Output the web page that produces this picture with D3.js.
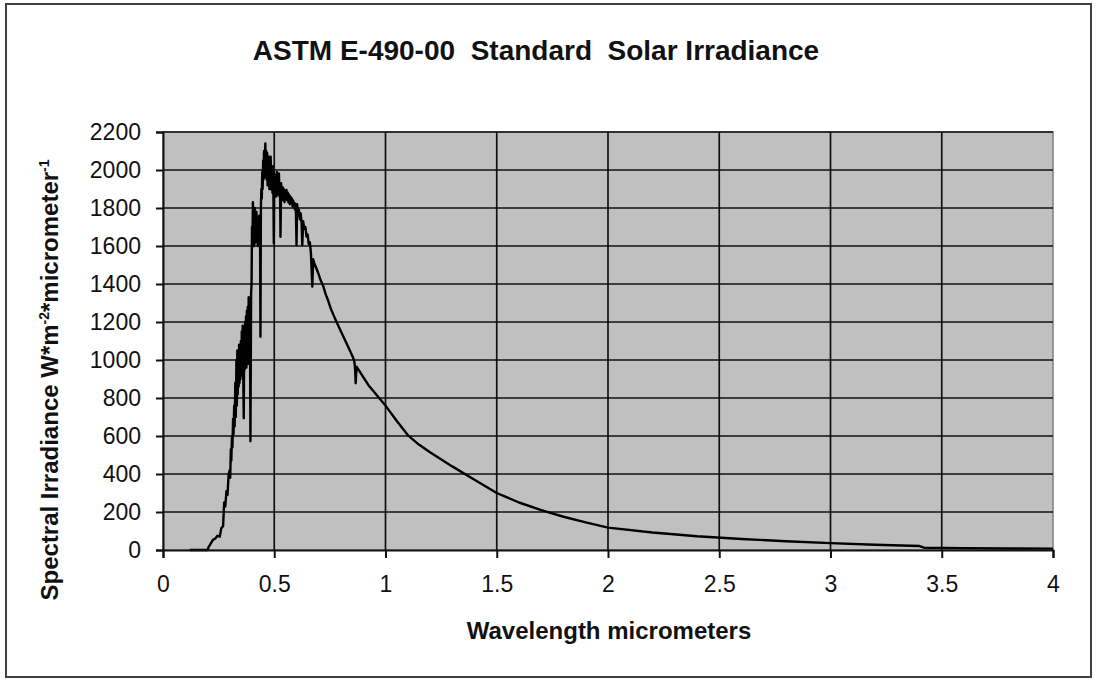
<!DOCTYPE html>
<html>
<head>
<meta charset="utf-8">
<script src="https://cdn.jsdelivr.net/npm/d3@7"></script>
<style>
  body { margin: 0; background: #fff; }
  svg { display: block; font-family: "Liberation Sans", Arial, sans-serif; }
</style>
</head>
<body>
<svg id="chart" width="1097" height="682"></svg>
<script>
// wavelength (micrometers) and spectral irradiance
const wavelength = [
  0.12, 0.20, 0.205, 0.215, 0.225, 0.235, 0.245, 0.255, 0.262, 0.27,
  0.275, 0.28, 0.285, 0.29, 0.295, 0.30, 0.302, 0.305, 0.307, 0.31,
  0.312, 0.315, 0.317, 0.32, 0.322, 0.325, 0.327, 0.33, 0.332, 0.334,
  0.336, 0.338, 0.34, 0.342, 0.344, 0.346, 0.348, 0.35, 0.352, 0.354,
  0.356, 0.358, 0.36, 0.363, 0.365, 0.367, 0.369, 0.371, 0.373, 0.375,
  0.377, 0.379, 0.381, 0.383, 0.385, 0.387, 0.389, 0.391, 0.393, 0.396,
  0.398, 0.400, 0.402, 0.404, 0.406, 0.408, 0.410, 0.412, 0.414, 0.416,
  0.418, 0.420, 0.422, 0.424, 0.426, 0.428, 0.430, 0.432, 0.434, 0.436,
  0.438, 0.440, 0.442, 0.444, 0.446, 0.448, 0.450, 0.452, 0.454, 0.456,
  0.458, 0.460, 0.462, 0.464, 0.466, 0.468, 0.470, 0.472, 0.474, 0.476,
  0.478, 0.480, 0.482, 0.484, 0.486, 0.488, 0.490, 0.492, 0.494, 0.496,
  0.498, 0.500, 0.503, 0.506, 0.509, 0.512, 0.515, 0.518, 0.521, 0.524,
  0.526, 0.528, 0.531, 0.534, 0.537, 0.540, 0.543, 0.546, 0.549, 0.552,
  0.555, 0.558, 0.561, 0.564, 0.567, 0.570, 0.573, 0.576, 0.579, 0.582,
  0.585, 0.588, 0.591, 0.594, 0.597, 0.600, 0.603, 0.607, 0.611, 0.615,
  0.619, 0.623, 0.626, 0.630, 0.635, 0.640, 0.645, 0.650, 0.655, 0.660,
  0.665, 0.671, 0.675, 0.680, 0.690, 0.700, 0.708, 0.720, 0.730, 0.740,
  0.753, 0.765, 0.78, 0.80, 0.82, 0.84, 0.855, 0.86, 0.863, 0.866,
  0.87, 0.90, 0.925, 0.95, 0.975, 1.0, 1.05,
  1.1, 1.15, 1.2, 1.3, 1.4, 1.5, 1.6, 1.7, 1.8, 1.9, 2.0,
  2.2, 2.4, 2.6, 2.8, 3.0, 3.2, 3.4, 3.42, 3.6, 3.8, 4.0
];
const irradiance = [
  0, 0, 15, 35, 55, 60, 75, 70, 115, 125,
  250, 230, 310, 290, 400, 420, 380, 530, 470, 600,
  540, 690, 610, 760, 650, 880, 700, 1000, 760, 1050,
  820, 1000, 860, 1080, 880, 1040, 900, 1100, 920, 1150,
  950, 1180, 980, 694, 1120, 950, 1200, 1000, 1230, 960,
  1260, 1000, 1280, 980, 1330, 1020, 1300, 1100, 573, 1350,
  1400, 1700, 1600, 1830, 1640, 1780, 1600, 1800, 1650, 1760,
  1620, 1780, 1640, 1750, 1600, 1720, 1640, 1760, 1620, 1700,
  1123, 1800, 1900, 1850, 1990, 1900, 2050, 1950, 2100, 1960,
  2080, 2140, 1980, 2100, 1950, 2090, 1920, 2060, 1950, 2070,
  1900, 2040, 1950, 2070, 1900, 2000, 1960, 1880, 2020, 1900,
  1614, 1980, 1880, 1960, 1860, 1990, 1870, 1950, 1982, 1860,
  1900, 1649, 1930, 1850, 1910, 1840, 1900, 1830, 1890, 1850,
  1895, 1840, 1880, 1830, 1870, 1820, 1860, 1830, 1850, 1810,
  1840, 1800, 1826, 1790, 1820, 1605, 1820, 1760, 1790, 1740,
  1772, 1720, 1605, 1730, 1690, 1700, 1650, 1660, 1610, 1620,
  1560, 1386, 1530, 1510, 1480, 1450, 1421, 1390, 1350, 1320,
  1274, 1240, 1200, 1150, 1100, 1050, 1010, 990, 960, 878,
  965, 910, 865, 830, 795, 760, 680,
  605, 555, 515, 440, 370, 300, 250, 210, 175, 145, 118,
  92, 72, 58, 46, 36, 28, 21, 12, 10, 8, 7
];
const xTicks = [0, 0.5, 1, 1.5, 2, 2.5, 3, 3.5, 4];
const yTicks = [0, 200, 400, 600, 800, 1000, 1200, 1400, 1600, 1800, 2000, 2200];

const title = "ASTM E-490-00  Standard  Solar Irradiance";
const xTitle = "Wavelength micrometers";

const svg = d3.select("#chart");
const plotLeft = 163, plotRight = 1053, plotTop = 132, plotBottom = 550;

const x = d3.scaleLinear().domain([0, 4]).range([plotLeft, plotRight]);
const y = d3.scaleLinear().domain([0, 2200]).range([plotBottom, plotTop]);

// outer frame
svg.append("rect")
    .attr("x", 6).attr("y", 4)
    .attr("width", 1085).attr("height", 673)
    .attr("fill", "#fff")
    .attr("stroke", "#404040")
    .attr("stroke-width", 2);

// plot area
svg.append("rect")
    .attr("x", plotLeft).attr("y", plotTop)
    .attr("width", plotRight - plotLeft).attr("height", plotBottom - plotTop)
    .attr("fill", "#c0c0c0")
    .attr("stroke", "#808080")
    .attr("stroke-width", 1.5);

// grid
svg.append("g")
    .attr("stroke", "#111")
    .attr("stroke-width", 1.7)
    .call(g => g.selectAll("line.h")
        .data(yTicks.slice(1))
        .join("line")
        .attr("class", "h")
        .attr("x1", plotLeft).attr("x2", plotRight)
        .attr("y1", d => y(d)).attr("y2", d => y(d)))
    .call(g => g.selectAll("line.v")
        .data(xTicks.slice(1, -1))
        .join("line")
        .attr("class", "v")
        .attr("y1", plotTop).attr("y2", plotBottom)
        .attr("x1", d => x(d)).attr("x2", d => x(d)));

// spectrum
const line = d3.line()
    .x((d, i) => x(wavelength[i]))
    .y(d => y(d));

svg.append("path")
    .datum(irradiance)
    .attr("fill", "none")
    .attr("stroke", "#000")
    .attr("stroke-width", 2.4)
    .attr("stroke-linejoin", "round")
    .attr("d", line);

// axes
const xAxis = d3.axisBottom(x)
    .tickValues(xTicks)
    .tickSize(8)
    .tickPadding(18)
    .tickFormat(d3.format("~g"));

const yAxis = d3.axisLeft(y)
    .tickValues(yTicks)
    .tickSize(7)
    .tickPadding(15)
    .tickFormat(d3.format("d"));

svg.append("g")
    .attr("transform", `translate(0,${plotBottom})`)
    .call(xAxis)
    .call(g => g.select(".domain").attr("stroke", "#111").attr("stroke-width", 2))
    .call(g => g.selectAll(".tick line").attr("stroke", "#111").attr("stroke-width", 2))
    .call(g => g.selectAll("text")
        .attr("font-size", 23)
        .attr("font-family", "Liberation Sans, Arial, sans-serif")
        .attr("fill", "#111"));

svg.append("g")
    .attr("transform", `translate(${plotLeft},0)`)
    .call(yAxis)
    .call(g => g.select(".domain").attr("stroke", "#111").attr("stroke-width", 2))
    .call(g => g.selectAll(".tick line").attr("stroke", "#111").attr("stroke-width", 2))
    .call(g => g.selectAll("text")
        .attr("font-size", 23)
        .attr("font-family", "Liberation Sans, Arial, sans-serif")
        .attr("fill", "#111"));

// titles
svg.append("text")
    .attr("x", 536).attr("y", 60)
    .attr("text-anchor", "middle")
    .attr("font-size", 28)
    .attr("font-weight", "bold")
    .attr("fill", "#111")
    .style("white-space", "pre")
    .text(title);

svg.append("text")
    .attr("x", 609).attr("y", 639)
    .attr("text-anchor", "middle")
    .attr("font-size", 24)
    .attr("font-weight", "bold")
    .attr("fill", "#111")
    .text(xTitle);

const yTitle = svg.append("text")
    .attr("transform", "translate(58,380) rotate(-90)")
    .attr("text-anchor", "middle")
    .attr("font-size", 24)
    .attr("font-weight", "bold")
    .attr("fill", "#111");
yTitle.append("tspan").text("Spectral Irradiance W*m");
yTitle.append("tspan").attr("font-size", 14).attr("dy", -9).text("-2");
yTitle.append("tspan").attr("dy", 9).text("*micrometer");
yTitle.append("tspan").attr("font-size", 14).attr("dy", -9).text("-1");
</script>
</body>
</html>
